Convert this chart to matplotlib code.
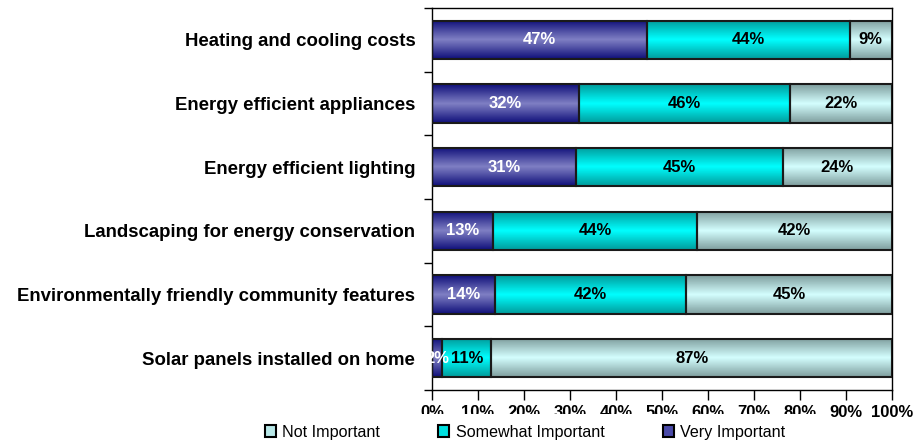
import matplotlib
matplotlib.use("Agg")
import matplotlib.pyplot as plt
import numpy as np
from matplotlib.colors import LinearSegmentedColormap
from matplotlib.patches import Patch, Rectangle

plt.rcParams['font.family'] = ['Liberation Sans', 'DejaVu Sans']

categories = ["Heating and cooling costs",
              "Energy efficient appliances",
              "Energy efficient lighting",
              "Landscaping for energy conservation",
              "Environmentally friendly community features",
              "Solar panels installed on home"]
very_important = [46.7, 32.0, 31.3, 13.3, 13.7, 2.2]
somewhat_important = [44.1, 45.9, 45.0, 44.3, 41.6, 10.7]
not_important = [9.2, 22.1, 23.7, 42.4, 44.7, 87.1]
xtick_values = [0, 10, 20, 30, 40, 50, 60, 70, 80, 90, 100]
series_names = ["Not Important", "Somewhat Important", "Very Important"]

grad = {
    "Very Important": ("#10107a", "#8080c4", "white"),
    "Somewhat Important": ("#009c9c", "#00ffff", "black"),
    "Not Important": ("#7f9e9e", "#d4ffff", "black"),
}
legend_face = {"Very Important": "#4a4aa8", "Somewhat Important": "#00e0e0",
               "Not Important": "#b8e8e8"}

fig = plt.figure(figsize=(9.22, 4.42), dpi=100)
ax = fig.add_axes([432/922, 52/442, 460/922, 382/442])

n = len(categories)
ypos = np.arange(n)[::-1]
h = 0.6

left = np.zeros(n)
for name, vals in [("Very Important", very_important),
                   ("Somewhat Important", somewhat_important),
                   ("Not Important", not_important)]:
    dark, light, tcol = grad[name]
    cmap = LinearSegmentedColormap.from_list(name, [dark, light, dark])
    bars = ax.barh(ypos, vals, left=left, height=h, color='none',
                   edgecolor='#1a1a1a', linewidth=1.5, zorder=3)
    for b, v, l, y in zip(bars, vals, left, ypos):
        im = ax.imshow(np.linspace(0, 1, 64).reshape(-1, 1), cmap=cmap,
                       aspect='auto', extent=[l, l + v, y - h/2, y + h/2],
                       zorder=2, interpolation='bilinear')
        im.set_clip_path(b)
        ax.text(l + v/2, y, f"{v:.0f}%", ha='center', va='center',
                color=tcol, fontsize=12, fontweight='bold', zorder=4)
    left = left + np.array(vals)

ax.set_xlim(0, 100)
ax.set_ylim(-0.5, n - 0.5)
ax.set_xticks(xtick_values)
ax.set_xticklabels([f"{v}%" for v in xtick_values], fontsize=12, fontweight='bold')
ax.set_yticks(ypos)
ax.set_yticklabels(categories, fontsize=13.4, fontweight='bold')
ax.set_yticks(np.arange(-0.5, n), minor=True)
ax.tick_params(axis='y', which='major', length=0, pad=12)
ax.tick_params(axis='y', which='minor', length=6, width=1)
ax.tick_params(axis='x', length=7, width=1, pad=4)
for s in ax.spines.values():
    s.set_linewidth(1)
ax.set_facecolor('white')

# white legend background band (covers part of tick labels, as in original)
fig.patches.append(Rectangle((226/922, 0), 596/922, 28/442, transform=fig.transFigure,
                             facecolor='white', edgecolor='none', zorder=5))
handles = [Patch(facecolor=legend_face[s], edgecolor='black', linewidth=1.5, label=s)
           for s in series_names]
leg = fig.legend(handles=handles, loc='center', bbox_to_anchor=(525/922, 10/442),
                 ncol=3, frameon=False, fontsize=11.6, handlelength=0.7,
                 handleheight=0.7, handletextpad=0.4, columnspacing=3.6)
leg.set_zorder(6)

fig.savefig("out.png", dpi=100)
